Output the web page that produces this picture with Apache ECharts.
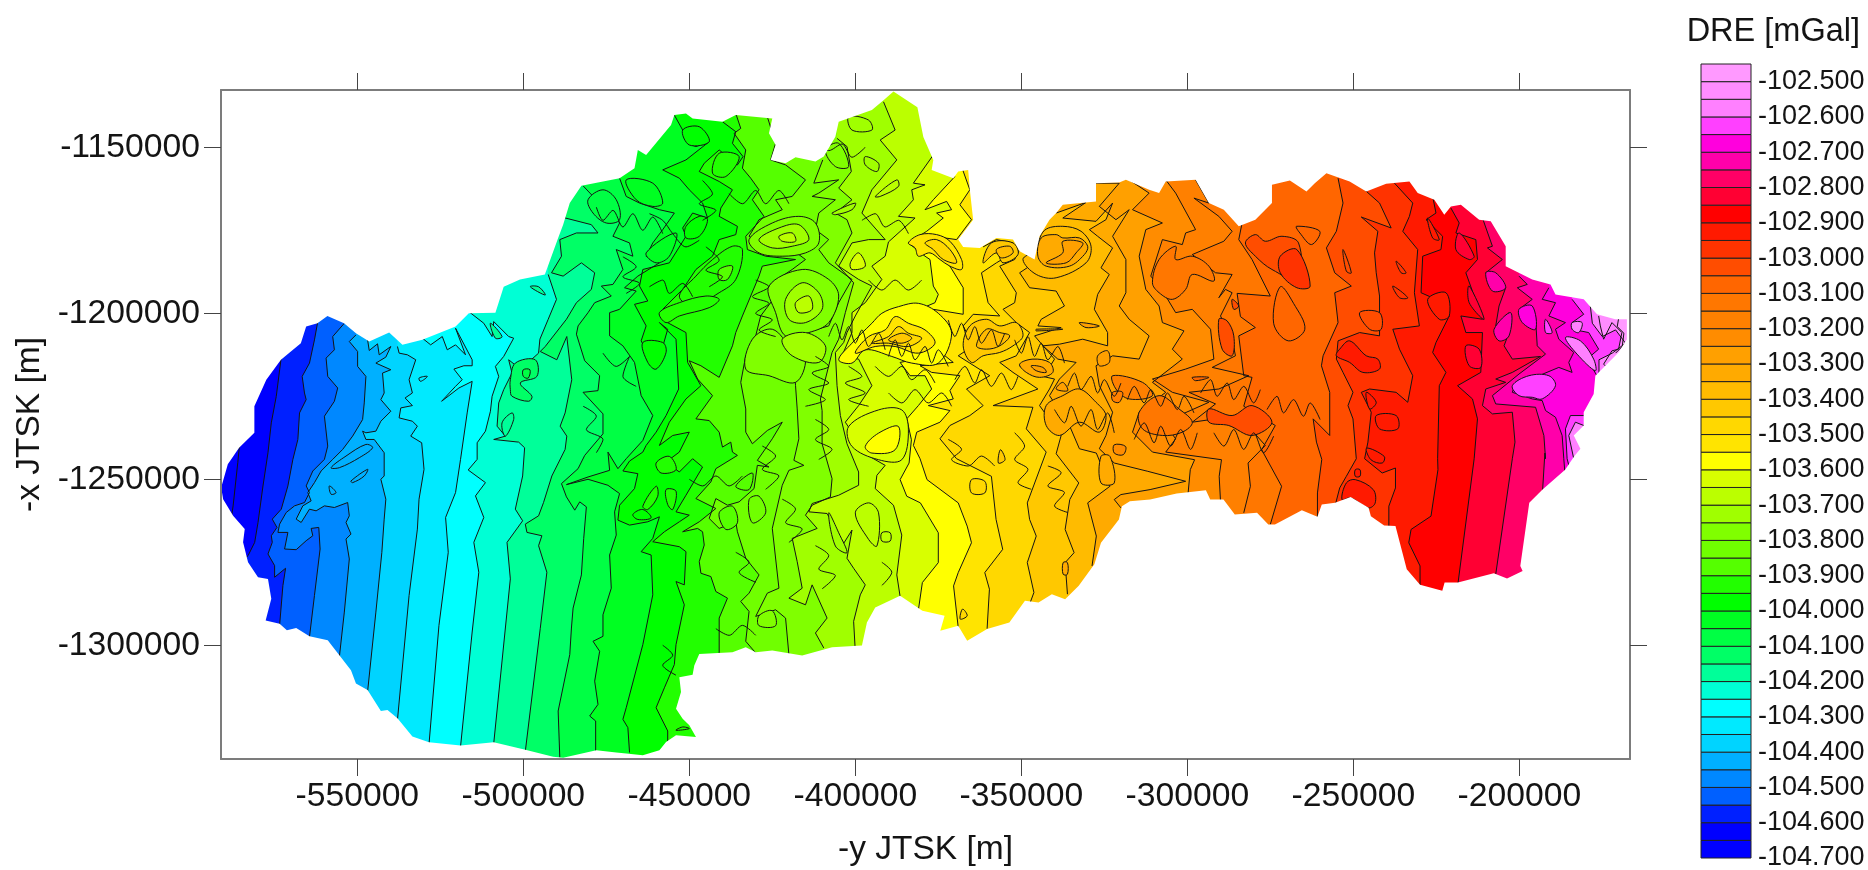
<!DOCTYPE html>
<html><head><meta charset="utf-8">
<style>html,body{margin:0;padding:0;background:#fff}#c{width:1868px;height:870px}</style>
<script src="https://cdn.jsdelivr.net/npm/echarts@6/dist/echarts.min.js"></script>
</head><body><div id="c"></div>
<script>
// all map data in km: pairs -y, -x
const xTicks=[-550000,-500000,-450000,-400000,-350000,-300000,-250000,-200000];
const yTicks=[-1150000,-1200000,-1250000,-1300000];
const legendTicks=[-104.7,-104.6,-104.5,-104.4,-104.3,-104.2,-104.1,-104,-103.9,-103.8,-103.7,-103.6,-103.5,-103.4,-103.3,-103.2,-103.1,-103,-102.9,-102.8,-102.7,-102.6,-102.5];
const bandColors=['#0000ff','#0000ff','#0020ff','#0060ff','#0088ff','#00b0ff','#00d4ff','#00eaff','#00ffff','#00ffd5','#00ff99','#00ff66','#00ff44','#00ff22','#00ff00','#22ff00','#55ff00','#70ff00','#80ff00','#a0ff00','#bbff00','#d8ff00','#ffff00','#ffe400','#ffd800','#ffc800','#ffbb00','#ffaa00','#ffa000','#ff8c00','#ff8000','#ff7700','#ff6600','#ff4d00','#ff3300','#ff1a00','#ff0000','#ff0033','#ff0066','#ff00aa','#ff00dd','#ff40ff','#ff80ff','#ff8cff','#ff99ff'];
const outline=[-591,-1252.5,-589,-1245.5,-585.6,-1240.5,-581,-1236,-581,-1228,-577.4,-1220,-573,-1214,-567,-1209,-565.4,-1204,-562,-1203,-559,-1200.8,-554,-1203,-550.4,-1206,-546.4,-1208.5,-540.4,-1205.8,-536.4,-1209.5,-530.4,-1208,-520.4,-1204,-516.4,-1200,-508.4,-1199.8,-505.9,-1192,-501,-1189.8,-493.5,-1188.3,-489.5,-1177.3,-488,-1173.3,-486,-1166.8,-482.5,-1161.6,-471,-1159.3,-466.5,-1156.3,-465.5,-1150.8,-463,-1152.3,-455.5,-1143.3,-454.5,-1140.3,-451,-1139.8,-449,-1141.3,-440,-1142.3,-436,-1140.3,-425,-1141.3,-426,-1145.8,-424,-1149.3,-425.5,-1153.8,-421,-1154.8,-418,-1153,-412,-1154.3,-409.5,-1152.8,-406,-1146.8,-405,-1142.3,-395,-1138.8,-391.5,-1135.8,-388.5,-1133.2,-381.3,-1137.9,-379.5,-1146.9,-376.5,-1153.8,-377,-1156.8,-370.5,-1159.3,-369,-1157.3,-366,-1156.8,-365.5,-1162.8,-364.5,-1171.8,-369,-1177.8,-367.5,-1180,-362.5,-1180.3,-357.5,-1177.3,-352.5,-1177.8,-350.5,-1181.3,-346,-1183.8,-344.5,-1176.8,-341.5,-1171.8,-339.5,-1169.8,-337.5,-1167.3,-327.5,-1166.3,-327.5,-1160.8,-320.5,-1160.6,-318.5,-1159.8,-311.5,-1162.8,-308.5,-1163.8,-306.5,-1160.3,-297.5,-1159.8,-293.5,-1166.8,-289,-1168.8,-284.5,-1173.8,-279.5,-1171.8,-274.5,-1166.8,-274.5,-1161.3,-269.1,-1160,-264.1,-1163.3,-261.6,-1160.8,-258.1,-1157.8,-251.1,-1160.3,-246.1,-1163.3,-240.1,-1161,-233.1,-1160.3,-230.6,-1163.8,-225.6,-1165.8,-222.6,-1170.3,-220.6,-1167.8,-217.6,-1167.3,-212.1,-1171.8,-208.6,-1172.3,-204.1,-1179.8,-204.1,-1185.8,-196.1,-1189.8,-190.6,-1191.3,-189.1,-1194.3,-180.6,-1195.8,-176.6,-1200.3,-171.1,-1201.8,-167.6,-1201.8,-167.6,-1207.8,-170.1,-1211.8,-177.1,-1218.8,-177.6,-1224.3,-180.6,-1229.8,-180.6,-1233.8,-183.6,-1236.8,-181.6,-1240.8,-183.5,-1243.1,-186.2,-1247.1,-193,-1253.1,-197,-1257.1,-199.7,-1276.1,-199,-1277.6,-203.7,-1279.9,-207.7,-1278.3,-218.5,-1281.1,-222.5,-1281.1,-223.2,-1283.6,-229.9,-1281.8,-233.9,-1277.1,-237.3,-1264.1,-240.7,-1263.9,-244.7,-1261.1,-245.4,-1258.6,-250.8,-1255.3,-255.5,-1257.1,-259.5,-1257.6,-260.8,-1261.3,-265.5,-1259.3,-273.6,-1263.6,-275.6,-1263.6,-279,-1260.1,-285.7,-1260.6,-289.1,-1256.1,-293.1,-1256.1,-294.4,-1253.3,-303.2,-1254.3,-311.2,-1256.1,-317.3,-1256.6,-319.7,-1258.1,-320.6,-1262.1,-326,-1269.1,-328,-1275.6,-332.7,-1282.1,-336.8,-1286.1,-340.8,-1284.6,-344.8,-1287.1,-348.9,-1286.6,-353.6,-1293.1,-360.3,-1295.1,-366.3,-1298.6,-369,-1294.1,-374.4,-1295.6,-373.1,-1291.1,-379.8,-1289.6,-386.5,-1285.1,-394,-1288.6,-396.5,-1293.1,-398,-1300.1,-407,-1300.6,-416,-1303.1,-425,-1301.6,-430,-1302.1,-433,-1300.6,-437,-1302.1,-447,-1302.6,-448.5,-1306.1,-449,-1308.9,-453,-1309.6,-452.5,-1314.1,-454,-1319.1,-452,-1322.1,-450,-1324.1,-448,-1327.6,-454,-1327.1,-457,-1329.1,-459,-1331.6,-464,-1333.1,-469,-1332.6,-472,-1332.3,-478,-1331.6,-488,-1333.9,-491,-1333.6,-499.4,-1331.5,-508.9,-1329.2,-518.9,-1330.2,-528.4,-1329.2,-533.4,-1327.5,-537.9,-1322,-540.9,-1319.5,-542.9,-1319.8,-546.9,-1313.5,-550.4,-1311.5,-551.9,-1307.5,-555.4,-1303,-558.9,-1298.5,-564.4,-1297.3,-568.4,-1294.8,-571.2,-1295.5,-573.4,-1293.5,-577.6,-1292.5,-575.9,-1286,-576.9,-1280,-579.9,-1279.5,-582.9,-1275,-584.4,-1269,-583.9,-1265,-587.4,-1261,-590.4,-1256];
const c00=[-584.5,-1235,-585.4,-1239,-586,-1245,-587.4,-1258,-588,-1262];
const c01=[-572.5,-1210,-573,-1214,-574.4,-1225,-575.9,-1233,-576.9,-1242,-578.4,-1252,-579.9,-1263,-580.9,-1269,-582.9,-1273,-584.5,-1274.5];
const c02=[-561.9,-1202.5,-562.9,-1208,-564.4,-1215,-566.6,-1219,-565.9,-1224,-565.4,-1226,-567.4,-1230,-567.9,-1238,-569.4,-1244,-570.9,-1252,-572.9,-1259,-575.6,-1262,-574.2,-1264.5,-575.9,-1267,-575.6,-1269,-576.9,-1272.5,-574.9,-1276,-574.9,-1279.5,-571.6,-1276.8,-572.4,-1282,-573.4,-1294];
const c03=[-553.9,-1203,-557.4,-1207,-556.9,-1211,-559.4,-1213.5,-558.9,-1219,-555.9,-1222.5,-556.9,-1226.5,-559.9,-1231,-558.9,-1240,-559.9,-1244,-563.4,-1247.5,-565.4,-1252,-564.4,-1254,-565.9,-1257,-568.9,-1258,-571.4,-1260,-573.4,-1263.5,-573.9,-1266,-570.9,-1266,-571.9,-1271,-568.4,-1271.2,-565.4,-1268.5,-563.4,-1267,-563.9,-1264.8,-561.6,-1264.5,-561.2,-1271,-562.9,-1285,-564.4,-1297.5];
const c04=[-550.4,-1206.5,-552.4,-1208.5,-549.9,-1211.5,-549.9,-1216,-547.4,-1219,-547.9,-1227,-548.4,-1232,-551.4,-1237,-554.4,-1241,-557.4,-1244,-560.9,-1247.5,-562.9,-1251,-564.9,-1254,-563.9,-1256.5,-566.4,-1258,-568.4,-1262,-566.9,-1263,-564.4,-1259,-562.4,-1259.5,-559.9,-1258,-556.9,-1258.5,-552.9,-1257,-552.4,-1261,-553.4,-1263,-551.9,-1266.5,-553.4,-1268,-552.4,-1274,-553.9,-1290,-555.4,-1303.5];
const c05=[-546.9,-1208,-546.4,-1211.2,-543.9,-1209.2,-543.4,-1212.5,-539.9,-1210,-541.4,-1213.2,-544.4,-1215,-539.9,-1217,-542.4,-1218,-541.9,-1224,-542.9,-1226,-539.9,-1229.5,-542.9,-1232.5,-544.4,-1235.5,-547.4,-1236,-548.4,-1235.5,-547.4,-1238,-544.9,-1238,-541.9,-1242,-541.9,-1249,-542.9,-1250,-541.4,-1256,-541.9,-1262,-542.6,-1272,-544.4,-1290,-546.9,-1314];
const c06=[-537.9,-1210,-537.4,-1212,-534.9,-1212.5,-532.4,-1214,-534.4,-1220,-533.4,-1224,-535.6,-1225.5,-533.4,-1227.8,-536.9,-1228.5,-537.4,-1231.5,-533.4,-1232.5,-531.9,-1234,-533.9,-1237,-530.6,-1239,-529.9,-1247,-531.4,-1256,-531.9,-1265,-534.4,-1285,-537.9,-1322.5];
const c07=[-530.4,-1207.5,-527.9,-1209.5,-524.4,-1207,-522.9,-1211,-520.4,-1209.5,-517.4,-1212.5,-520.4,-1204.5,-515.4,-1214,-515.4,-1215.8,-517.9,-1215.8,-520.9,-1216.8,-518.4,-1220,-520.4,-1222,-524.6,-1226.5,-519.4,-1222.5,-515.4,-1220.5,-516.9,-1230,-518.9,-1244,-520.4,-1254,-523.4,-1261.5,-522.6,-1272,-525.4,-1294,-528.4,-1329.8];
const c08=[-516.4,-1199.5,-511.9,-1203,-509.4,-1207,-508.9,-1202.5,-504.4,-1207,-502.9,-1207.5,-505.9,-1213,-508.4,-1216,-507.4,-1219,-509.4,-1225,-509.9,-1229.5,-511.4,-1235.5,-513.9,-1239,-513.9,-1244,-516.6,-1247.2,-511.4,-1251,-514.4,-1255,-511.9,-1261.5,-514.9,-1269,-513.4,-1278,-515.4,-1296,-518.9,-1330.5];
const c09=[-492.5,-1188.3,-490,-1195.8,-492.5,-1201.8,-495,-1207.8,-495.4,-1212,-497.4,-1213.8,-500.9,-1216.8,-504.4,-1214,-503.4,-1218,-505.9,-1223,-507.4,-1227,-507.9,-1234,-505.4,-1237,-508.9,-1238,-501.4,-1238.8,-499.6,-1240.5,-500.2,-1249,-502.4,-1259,-500.2,-1262.5,-504.9,-1269,-503.9,-1280,-508.9,-1329.5];
const c10=[-488.5,-1171,-479.5,-1173.3,-477.5,-1175.8,-484,-1175.8,-489,-1177.8,-488.5,-1182.8,-491.5,-1187.8,-488,-1188.8,-482.5,-1184.8,-478.5,-1187.8,-479.5,-1192.8,-484,-1196.8,-487,-1201.8,-487.4,-1202,-493.4,-1210,-494.9,-1211.5,-489.9,-1214,-486.9,-1207,-485.4,-1220,-487.4,-1230,-488.9,-1234,-486.9,-1237,-487.4,-1241,-491.4,-1249,-493.9,-1257,-495.4,-1261,-499.4,-1263.5,-498.9,-1266,-494.4,-1267,-495.4,-1270,-492.9,-1278,-494.9,-1295,-499.4,-1332];
const c11=[-482,-1161.6,-478.5,-1165.3,-475,-1167.8,-471,-1172.8,-473,-1176.8,-468,-1178.8,-467,-1182.8,-472,-1180.8,-470,-1186.8,-473,-1191.3,-476.5,-1191.8,-473.5,-1194.8,-478.5,-1196.8,-480.5,-1199.8,-483.5,-1203.8,-484,-1206.3,-481.5,-1214.3,-477,-1218.8,-477.5,-1223.3,-482,-1223.8,-476,-1230.3,-476,-1236.3,-481.5,-1242.8,-483.5,-1246.8,-488.5,-1251.3,-487,-1255.3,-484.5,-1259.3,-483,-1256.8,-481,-1258.3,-481.8,-1267.8,-482.5,-1278.8,-485,-1288.8,-485.5,-1294.8,-486,-1302.8,-489.5,-1319.8,-489,-1333.8];
const c12=[-471,-1159.3,-469,-1164.8,-465,-1166.8,-459,-1168.8,-454.5,-1169.8,-458,-1174.8,-461,-1178.8,-463,-1182.8,-459,-1184.8,-465.5,-1188.8,-469.5,-1192.3,-466,-1193.3,-471,-1198.8,-474,-1199.8,-474,-1206.8,-470,-1209.8,-466.5,-1214.8,-464.5,-1224.8,-461,-1230.8,-464,-1238.3,-469,-1243.8,-471.5,-1246.8,-474.5,-1241.8,-474,-1247.3,-480.5,-1249.3,-487,-1251.6,-480.5,-1250,-474.5,-1251.8,-471,-1254.3,-472.5,-1259.8,-472,-1266.8,-474,-1272.8,-473.5,-1282.8,-476,-1290.8,-476,-1297.3,-479,-1298.8,-477,-1301.8,-478.5,-1310.8,-477.5,-1317.8,-480,-1321.3,-478.2,-1322.8,-478.2,-1332.3];
const c13=[-454.5,-1140.3,-452,-1144.8,-448,-1143.8,-450.5,-1148.8,-448,-1149.8,-444,-1148.3,-451,-1153.8,-458,-1156.8,-453,-1159.3,-450,-1162.8,-446,-1166.8,-444.5,-1171.3,-449,-1169.8,-452,-1174.3,-451,-1176.8,-456,-1184.8,-464,-1186.8,-465,-1191.8,-462.5,-1196.3,-466.5,-1197.3,-463,-1203.8,-464.5,-1208.3,-460,-1216.8,-458.5,-1211.8,-456.5,-1204.8,-459,-1202.8,-454,-1207.8,-453.2,-1222.8,-457,-1230.8,-460,-1235.8,-463,-1239.8,-464,-1241.8,-468,-1244.5,-470,-1247.5,-465.5,-1248.3,-466.5,-1252.8,-471,-1257.8,-471.5,-1262.3,-468,-1263.8,-462.5,-1262.8,-459,-1261.3,-461,-1267.8,-464.5,-1271.8,-461.5,-1272.8,-461,-1284.8,-464,-1299.8,-469,-1318.8,-470,-1322.3,-468.5,-1324.8,-468,-1332.3];
const c14=[-440,-1142.3,-436,-1145.3,-437,-1148.8,-433.8,-1152.8,-435.5,-1155.3,-441,-1150.8,-445.5,-1154.8,-447,-1157.3,-441,-1160.3,-437,-1162.8,-440.5,-1168.3,-441,-1170.8,-435.5,-1173.8,-436,-1176.3,-441,-1177.8,-443,-1182.8,-448,-1186.8,-452,-1192.8,-458,-1198.8,-457.5,-1202.3,-451,-1205.8,-450.5,-1214.8,-446.5,-1221.8,-451,-1225.8,-456,-1232.8,-459,-1239.8,-455,-1236.8,-450,-1235.8,-453,-1241.8,-457,-1244.8,-453,-1247.8,-449,-1243.8,-446,-1246.3,-451,-1254.8,-454,-1259.8,-450,-1260.8,-453,-1262.8,-457.5,-1265.8,-461,-1268.8,-453,-1270.3,-451,-1271.8,-451.5,-1281.8,-454,-1280.8,-451.5,-1287.8,-454,-1299.8,-454.5,-1305.8,-456,-1309.3,-457.5,-1312.8,-460,-1318.8,-456.5,-1325.8,-456.5,-1329.8];
const c15=[-436,-1139.8,-434.5,-1144.3,-436.5,-1145.8,-433,-1150.8,-434,-1156.3,-431.5,-1159.3,-429,-1162.8,-431,-1165.8,-427.5,-1170.8,-433,-1176.8,-432.5,-1180.8,-427,-1182.8,-418,-1183.8,-428,-1185.8,-429,-1188.8,-434,-1200.8,-436,-1205.8,-437,-1209.8,-441,-1219.3,-446.5,-1215.8,-450,-1214.3,-447.5,-1219.8,-443,-1224.8,-448,-1231.8,-444,-1232.3,-441,-1235.8,-440,-1240.3,-437.5,-1238.8,-437,-1241.8,-435.5,-1242.8,-442,-1246.8,-443.5,-1250.8,-448,-1255.8,-442,-1258.8,-447,-1262.8,-452,-1265.8,-447.5,-1264.8,-446,-1265.8,-445.5,-1269.8,-447,-1274.8,-446.5,-1278.3,-443.5,-1279.3,-442,-1283.8,-438.5,-1285.8,-441,-1291.8,-441,-1302.3];
const c16=[-426.5,-1140.8,-424,-1148.8,-425.5,-1153.8,-421,-1155.3,-415,-1159.8,-419,-1164.8,-424,-1165.8,-422,-1168.8,-429,-1171.8,-432,-1176.8,-429,-1178.8,-419,-1180.8,-415,-1183.8,-419,-1186.8,-425,-1190.8,-424,-1194.8,-428.5,-1200.8,-430,-1206.8,-433,-1212.8,-434.5,-1220.8,-433,-1228.8,-433,-1235.8,-431,-1239.3,-426.5,-1235.3,-422,-1232.8,-425,-1237.8,-429.5,-1244.3,-426,-1246.3,-429.5,-1245.8,-430.5,-1252.8,-435,-1256.8,-438.5,-1257.8,-442,-1255.8,-444,-1261.8,-441,-1264.8,-436,-1262.8,-435.5,-1265.8,-433,-1273.8,-429,-1278.8,-432,-1284.3,-434.5,-1286.8,-432,-1289.8,-433,-1298.8,-430,-1302.3];
const c17=[-409.8,-1153.8,-412.5,-1160.8,-405,-1159.8,-411,-1163.8,-413,-1164.8,-406,-1165.8,-411,-1169.8,-412,-1174.8,-408,-1177.8,-411,-1180.8,-408,-1184.8,-401,-1189.8,-405,-1196.8,-408,-1203.8,-415,-1205.8,-418.5,-1213.8,-418,-1221.8,-417.5,-1228.8,-417,-1237.8,-418.5,-1244.3,-415.5,-1245.8,-420,-1247.3,-422,-1251.8,-425,-1264.8,-423,-1282.8,-426.5,-1284.3,-430,-1291.3,-424,-1289.3,-421,-1291.8,-420,-1302.8];
const c18=[-405.5,-1147.3,-402.5,-1149.8,-401.2,-1157.3,-405,-1162.3,-401,-1165.8,-406,-1169.8,-402.5,-1171.8,-401,-1175.8,-406,-1184.8,-400.5,-1190.8,-403,-1199.8,-405,-1207.8,-407,-1211.8,-410.5,-1225.8,-410,-1229.3,-410,-1239.3,-407,-1249.8,-407.5,-1255.3,-413,-1257.8,-415,-1260.8,-411.5,-1264.8,-419,-1267.8,-417.5,-1274.8,-416,-1282.8,-420,-1285.8,-415,-1287.8,-413,-1281.8,-408.5,-1291.8,-412,-1296.3,-409.5,-1300.8];
const c19=[-391.5,-1136.3,-388,-1144.8,-392.5,-1147.8,-387.5,-1153.8,-395,-1162.8,-398,-1169.8,-391,-1177.8,-396,-1177.8,-401,-1178.8,-405,-1185.8,-399,-1189.8,-395,-1191.8,-400,-1200.8,-402.5,-1205.8,-403.5,-1208.8,-406,-1211.8,-405.5,-1221.8,-404.5,-1230.8,-402.5,-1239.3,-399,-1247.8,-399,-1251.8,-405,-1254.8,-413,-1257.3,-414,-1259.8,-408.5,-1260.3,-403.5,-1269.3,-401,-1265.3,-402.5,-1273.8,-400.5,-1276.8,-397,-1281.8,-398.5,-1284.8,-400.5,-1292.8,-400,-1301.8];
const c20=[-376.5,-1152.3,-382.5,-1160.8,-379,-1161.3,-383,-1162.8,-382.5,-1165.8,-387,-1170.8,-382,-1171.3,-390,-1178.5,-391,-1182.8,-395,-1185.8,-392,-1189.8,-397,-1196.8,-401,-1199.8,-401,-1205.8,-404,-1212.8,-399,-1213.8,-395,-1221.8,-399,-1227.8,-403,-1232.8,-399,-1238.8,-398,-1241.8,-391,-1245.8,-393.5,-1248.8,-394,-1252.8,-388.5,-1257.8,-386,-1266.8,-387.5,-1278.8,-386.5,-1285.3];
const c21=[-370,-1158.8,-376.5,-1165.8,-379,-1168.8,-372.5,-1166.3,-371,-1168.8,-375.5,-1169.8,-373.5,-1171.3,-378.5,-1175.3,-384,-1178.8,-379,-1182.8,-377.5,-1183.8,-376.5,-1191.8,-375,-1194.3,-376,-1196.8,-379.5,-1198.3,-388,-1200,-384,-1207,-381.5,-1213.8,-386.5,-1214.8,-383.5,-1218.8,-379,-1218.8,-377,-1222.8,-381,-1227.8,-384.5,-1231.8,-383.1,-1238.1,-383.8,-1245.1,-386.5,-1250.1,-384.5,-1255.1,-380.4,-1257.1,-375,-1266.1,-375,-1275.1,-379.8,-1281.1,-381.1,-1290.1];
const c22=[-368,-1155.8,-365.5,-1162.8,-368.5,-1167.3,-365,-1171.8,-369.5,-1177.8,-376.5,-1176.8,-380.5,-1178.8,-375.5,-1181.8,-371.5,-1185.8,-367.5,-1192.3,-367.5,-1200.3,-376.5,-1198.8,-373,-1204.8,-380.5,-1207.8,-375.5,-1210.8,-370.5,-1214.8,-380.5,-1215.8,-377,-1217.8,-368.5,-1218.8,-371.5,-1223.3,-370.5,-1225.8,-378,-1227.8,-371.5,-1229.3,-374.5,-1232.8,-381.5,-1235.8,-382.5,-1239.8,-380.5,-1243.8,-378.4,-1250.1,-369,-1257.1,-366.3,-1264.1,-365,-1269.1,-369,-1278.1,-370.4,-1282.1,-369,-1294.6];
const c23=[-361.5,-1180,-357.5,-1177.8,-352.5,-1178.8,-352.5,-1181.8,-357.5,-1184.8,-362,-1187.8,-360,-1196.8,-356.5,-1200.8,-364.5,-1200.3,-367.5,-1203.8,-364.5,-1209.8,-369,-1212.8,-359.5,-1218.8,-366.5,-1222.8,-361.5,-1227.8,-365.5,-1230.8,-371.5,-1233.8,-374.5,-1237.8,-369.5,-1243.8,-359,-1249.1,-357.6,-1262.1,-355.6,-1271.1,-361,-1278.1,-359.6,-1283.1,-360.3,-1295];
const c24=[-350.5,-1180.8,-352,-1183.8,-356.5,-1185.8,-351.5,-1193.8,-352,-1196.8,-355.5,-1198.8,-351.5,-1202.8,-347.5,-1205.8,-351.5,-1212.8,-356.5,-1214.8,-352.5,-1217.8,-345,-1222.8,-358.5,-1227.8,-346.5,-1228.3,-348.5,-1234.8,-342.5,-1241.8,-342.1,-1242.1,-348.2,-1257.1,-347.5,-1262.1,-345.5,-1267.1,-348.2,-1275.1,-346.2,-1284.1,-347.5,-1287.6];
const c25=[-346,-1184.8,-350.5,-1187.8,-347.5,-1192.3,-339.5,-1193.3,-337,-1197.8,-344,-1201.8,-345,-1203.8,-338,-1204.3,-346,-1206.8,-340,-1213.8,-342.5,-1217.8,-350.5,-1215.8,-344.5,-1218.8,-340,-1219.8,-341.5,-1222.8,-344.5,-1227.8,-338,-1236.8,-339.5,-1242.3,-332.7,-1251.1,-335.4,-1256.1,-336.8,-1265.1,-334.1,-1272.1,-336.8,-1275.1,-336.1,-1284.6];
const c26=[-339.5,-1169.8,-330.5,-1166.6,-337.5,-1171.3,-327.5,-1172.3,-322.5,-1166.8,-324.5,-1171.8,-329.5,-1174.8,-327,-1176.8,-322.5,-1180.3,-326,-1186.3,-323.5,-1188.3,-327,-1194.3,-328,-1198.8,-324,-1205.8,-324,-1209.8,-331.5,-1207.8,-338.5,-1209.3,-343.5,-1209.8,-339,-1213.8,-333.5,-1214.8,-338.5,-1219.8,-341.5,-1224.8,-335.5,-1233.8,-332.5,-1240.8,-327.4,-1242.1,-323.3,-1252.1,-330,-1257.1,-327.4,-1267.1,-328.7,-1276.1];
const c27=[-327.5,-1160.8,-320.5,-1160.8,-326.5,-1167.8,-321.5,-1171.8,-317.5,-1168.8,-322.5,-1176.8,-318.5,-1183.8,-318.5,-1193.8,-320.5,-1197.8,-317.5,-1201.8,-311.5,-1206.8,-314.5,-1213.8,-322.5,-1212.8,-327.5,-1215.8,-326.5,-1221.8,-322.5,-1229.8,-324.5,-1236.8,-326.5,-1240.8,-322,-1245.1,-311.9,-1247.6,-300.5,-1250.6,-311.2,-1253.1,-320,-1254.6,-322,-1256.1,-320,-1258.6];
const c28=[-317.5,-1159.8,-311.5,-1163.8,-316.5,-1168.8,-307.5,-1172.8,-312.5,-1174.8,-314.5,-1182.8,-312.5,-1192.8,-308.5,-1197.8,-307.5,-1202.8,-301,-1205.3,-304.5,-1210.8,-301.5,-1213.8,-310.5,-1220.8,-306.5,-1223.8,-314.5,-1229.8,-316.5,-1235.8,-310.5,-1241.8,-297.8,-1244.1,-299.1,-1247.1,-299.8,-1254.6];
const c29=[-306.5,-1159.8,-303.5,-1163.8,-297.5,-1174.8,-300.5,-1175.8,-301.5,-1179.3,-307.5,-1177.8,-311,-1188.8,-308.5,-1191.8,-306.5,-1194.8,-303.5,-1199.8,-298.5,-1198.8,-293,-1204.8,-292,-1213.8,-300.5,-1216.8,-310.5,-1219.8,-304.5,-1223.8,-293.5,-1226.8,-302.5,-1230.8,-306.5,-1233.8,-303.5,-1237.8,-306.5,-1241.8,-289.7,-1244.1,-290.4,-1249.1,-290,-1256.6];
const c30=[-297.5,-1159.8,-293.5,-1166.8,-298,-1165.3,-290.5,-1170.8,-286.5,-1175.3,-289,-1178.3,-298.5,-1182.3,-291.5,-1187.8,-286.5,-1188.3,-290.5,-1195.3,-288.5,-1192.8,-286.5,-1193.8,-290,-1200.8,-286.5,-1207.8,-285.5,-1212.8,-292.5,-1216.3,-281.5,-1218.8,-290.5,-1222.8,-299.5,-1223.8,-291.5,-1227.3,-298.5,-1232.8,-284.5,-1230.8,-276.5,-1239.8,-281.7,-1245.1,-281,-1252.1,-283,-1260.1];
const c31=[-283.5,-1172.8,-284.5,-1177.8,-280.5,-1183.8,-275,-1194.8,-285,-1194,-284,-1201,-279.5,-1204.3,-284.5,-1206.8,-283,-1218.8,-280.5,-1219.3,-283,-1228,-273.5,-1233.8,-277.6,-1241.1,-271.6,-1252.1,-275,-1263.6];
const c32=[-254.6,-1159.3,-253.1,-1166.8,-255.1,-1175.3,-258.1,-1180.3,-255.6,-1187.8,-250.6,-1191.8,-255.6,-1193.8,-254.6,-1202.8,-259.1,-1212.8,-259.6,-1215.8,-257.1,-1223.8,-257.1,-1236.8,-262.1,-1231.8,-261.1,-1238.8,-259.5,-1244,-260.8,-1254.1,-260.8,-1261.6];
const c33=[-246.6,-1162.8,-242.1,-1166.8,-238.6,-1174.3,-247.6,-1171,-242.6,-1175.3,-243.6,-1181.8,-243.1,-1187.8,-242.1,-1194.8,-242.1,-1206.8,-248.1,-1205.8,-254.6,-1208.3,-255.1,-1213.8,-253.1,-1217.8,-250.1,-1223.8,-251.6,-1227.8,-250.1,-1231.8,-249.1,-1243.8,-252.1,-1249.1,-254.1,-1252.6,-255.5,-1258];
const c34=[-237.6,-1160.8,-232.1,-1166.8,-233.1,-1170.8,-235.1,-1175.3,-230.6,-1180.8,-231.6,-1193.8,-230.1,-1203.8,-238.1,-1204.8,-236.1,-1210.8,-232.1,-1218.8,-233.6,-1226.8,-237.1,-1223.8,-245.1,-1222.8,-247.6,-1223.8,-244.6,-1229.8,-245.6,-1238.8,-246.6,-1243.8,-241.3,-1248.1,-237.3,-1246.6,-237.3,-1252.6,-239.3,-1258.1,-239.3,-1264.6];
const c35=[-226.1,-1164.8,-225.1,-1169.8,-228.1,-1171.8,-223.1,-1176.8,-223.6,-1180.8,-229.1,-1182.8,-229.6,-1193.8,-225.1,-1195.8,-221.1,-1200.8,-225.1,-1208.8,-226.1,-1211.8,-222.1,-1217.8,-224.1,-1221.8,-224.6,-1243.8,-224.5,-1247.1,-226.6,-1261.1,-232.6,-1265.1,-233.3,-1269.1,-229.9,-1276.1,-229.9,-1282.1];
const c36=[-220.6,-1168.3,-218.1,-1172.8,-219.1,-1175.8,-213.1,-1177.8,-212.6,-1183.8,-216.1,-1187.8,-211.1,-1201.8,-217.6,-1200.8,-216.1,-1205.8,-211.1,-1205.8,-211.6,-1217.8,-218.6,-1221.8,-214.1,-1225.8,-212.6,-1231.8,-213.6,-1243.8,-218.5,-1281.6];
const c37=[-211.1,-1171.3,-208.1,-1179.8,-209.6,-1180.3,-205.1,-1183.8,-210.1,-1187.8,-204.1,-1192.3,-206.1,-1197.8,-207.1,-1203.8,-203.1,-1199.8,-203.1,-1205.8,-204.6,-1209.8,-202.1,-1213.8,-193.6,-1213,-202.1,-1217.8,-207.1,-1219.8,-204.1,-1220.8,-210.1,-1222.8,-211.1,-1227.8,-208.1,-1230.3,-202.1,-1229.8,-201.3,-1238.8,-202.1,-1243.8,-207.1,-1278.6];
const c38=[-200.1,-1188.8,-197.6,-1191.3,-200.6,-1192.3,-196.1,-1195.8,-200.1,-1198.8,-195.1,-1201.8,-194.6,-1209.8,-192.1,-1212.3,-200.1,-1218.3,-208.1,-1224.8,-207.1,-1227.3,-195.1,-1228.3,-192.6,-1236.8,-192.1,-1243.8,-192.3,-1242.1,-193,-1253.6];
const c39=[-191.1,-1192.3,-193.1,-1195.8,-189.1,-1196.8,-191.1,-1200.8,-186.1,-1202.8,-189.1,-1204.8,-188.1,-1207.8,-183.6,-1211.8,-185.1,-1214.8,-184.1,-1217.8,-188.1,-1216.3,-194.1,-1218.8,-201.1,-1220.8,-202.1,-1223.8,-196.1,-1225.8,-193.1,-1226.3,-192.1,-1229.3,-189.1,-1231.3,-187.1,-1236.8,-186.6,-1243.8,-186.2,-1249];
const c40=[-184.1,-1195.8,-180.6,-1200.3,-184.1,-1202.8,-184.1,-1204.8,-179.1,-1205.8,-176.1,-1210.8,-179.6,-1213.8,-176.6,-1218.8,-170,-1225,-172,-1235,-180.6,-1230.8,-184.6,-1230.8,-186.1,-1234.8,-185.6,-1243.8,-184.5,-1248];
const c41=[-178.6,-1197.8,-178,-1203,-175,-1207,-171,-1205,-168,-1209,-172,-1212,-176,-1214,-176,-1220,-170,-1228,-175,-1236,-183.1,-1232.8,-185.1,-1236.8,-183.6,-1243.8];
const c42=[-176.1,-1200.8,-175.6,-1203.8,-174.6,-1207.8,-172.1,-1202.8,-169.1,-1205.8,-170.1,-1210.8,-172.1,-1211.3,-174.6,-1215.3,-172,-1218];
const c43=[-170,-1201,-170.5,-1204,-168.5,-1206,-169,-1210,-171,-1212];
const contours=[c00,c01,c02,c03,c04,c05,c06,c07,c08,c09,c10,c11,c12,c13,c14,c15,c16,c17,c18,c19,c20,c21,c22,c23,c24,c25,c26,c27,c28,c29,c30,c31,c32,c33,c34,c35,c36,c37,c38,c39,c40,c41,c42,c43];
// closed contour loops: first number is the contour index, then pairs
const westLoops=[[4,-557.9,-1246.5,-553.4,-1243,-547.4,-1239.5,-545.4,-1240.5,-549.4,-1243.5,-555.4,-1246.5],[4,-551.9,-1250.5,-546.9,-1247,-547.9,-1249,-551.4,-1251],[4,-558.4,-1252,-556.4,-1254,-557.9,-1254.5],[10,-503.9,-1220,-502.4,-1215,-496.4,-1214,-495.9,-1219,-500.9,-1221,-497.4,-1225,-498.4,-1226.5,-503.4,-1225,-503.9,-1223],[11,-500,-1217,-498,-1217,-498.5,-1219.5,-500,-1219],[9,-503.4,-1230,-502.9,-1232,-505.4,-1237,-506.4,-1233],[9,-497.9,-1192,-493.4,-1194.5,-495.4,-1192],[9,-509.9,-1203,-506.4,-1207,-508.4,-1207.5],[6,-531.4,-1219.5,-528.9,-1219,-530.9,-1220.5]];
const northLoops=[[11,-480.5,-1165.8,-476,-1162.8,-472,-1165.8,-471,-1171.8,-475,-1172.8,-479,-1169.8],[12,-469,-1159.8,-461,-1160.8,-458,-1166.8,-461,-1167.8,-466,-1165.8],[13,-452,-1144.8,-447,-1143.8,-444,-1148.3,-450,-1149.3],[14,-441,-1151.8,-435,-1152.8,-439,-1158.8,-443,-1157.8],[13,-451,-1173.8,-447,-1170.8,-444.5,-1171.8,-447,-1176.8,-451,-1177.3],[12,-463,-1181.8,-454,-1175.8,-456,-1182.8,-460,-1184.8],[14,-443,-1183.8,-437,-1179.8,-434,-1180.8,-436,-1189.8,-441,-1193.8,-449,-1197.8,-453,-1194.8,-448,-1188.8],[15,-441,-1186.8,-437,-1185.8,-438.5,-1189.8,-441,-1189.8],[14,-459,-1199.8,-453,-1196.8,-445,-1194.8,-441,-1195.8,-444,-1198.3,-453,-1200.8,-457,-1202.8],[13,-464,-1208.8,-458,-1208.8,-457,-1211.8,-460,-1216.8,-462.5,-1214.8],[18,-402,-1140.8,-396,-1141.8,-395,-1144.8,-401,-1144.8],[18,-397,-1152.8,-393,-1154.8,-393.5,-1157.3,-397,-1155.3],[19,-394,-1164.8,-387.5,-1159.8,-387,-1161.8,-392.5,-1164.8],[18,-407,-1169.8,-400,-1166.8,-401,-1168.8,-406,-1170.3],[17,-409,-1150.8,-405,-1148.8,-402,-1155.8,-406,-1155.8],[17,-432,-1177.8,-425,-1172.8,-417,-1170.8,-412,-1172.8,-411,-1178.8,-415,-1181.8,-422,-1182.8,-429,-1181.8],[18,-429,-1177.8,-423,-1174.3,-417,-1173.3,-414,-1177.8,-419,-1179.8,-425,-1180.3],[19,-423,-1176.8,-419,-1175.8,-418,-1178.3,-422,-1178.3],[17,-426,-1191.8,-416,-1186.8,-408,-1189.8,-405,-1194.8,-408,-1202.8,-414,-1205.8,-421,-1206.8,-424,-1199.8],[18,-421,-1195.8,-416,-1190.8,-411,-1193.8,-410,-1198.8,-415,-1202.8,-420,-1201.8],[19,-418,-1196.8,-414,-1194.8,-413,-1198.8,-417,-1199.8],[17,-431,-1207.8,-425,-1204.8,-419,-1210.8,-415,-1213.8,-418,-1220.8,-426,-1218.8,-433,-1216.8],[18,-422,-1207.8,-415,-1205.8,-409,-1209.8,-411,-1214.8,-419,-1212.8],[20,-401.5,-1184.8,-399,-1181.8,-397,-1185.8,-401,-1186.8]];
const hillLoops=[[21,-405,-1214,-401,-1209,-395,-1203,-392,-1200,-387,-1198,-381,-1197,-375,-1200,-371,-1206,-375,-1215,-383,-1215,-389,-1213,-397,-1211,-401,-1215],[22,-400,-1212,-396,-1207,-391,-1205,-388,-1201,-384,-1203,-379,-1205,-376,-1209,-381,-1212,-388,-1210,-394,-1210],[23,-395,-1209,-390,-1207,-387,-1204,-384,-1206,-380,-1207.5,-384,-1210,-390,-1209],[24,-390,-1208,-386,-1206,-383,-1207.5,-386,-1209],[25,-349.5,-1183.8,-345.5,-1188.3,-339.5,-1189.3,-330.5,-1184.8,-329,-1179.8,-332,-1175.3,-337.5,-1173.8,-343,-1175,-346,-1181],[26,-345,-1182.8,-344,-1177.3,-339.5,-1176.3,-337.5,-1177.3,-332.5,-1177.3,-330,-1179.8,-331,-1182.3,-335.5,-1185.8,-342.5,-1185.8],[27,-342.5,-1184.8,-337.5,-1181.8,-337.5,-1178.3,-331.5,-1178.8,-333.5,-1181.8,-336.5,-1184.8]];
const southLoops=[[13,-467,-1260.6,-464,-1259.1,-461.5,-1261.6,-465.5,-1262.1],[14,-457,-1253.1,-454,-1253.6,-455,-1259.1,-456.5,-1257.6],[14,-464,-1258.1,-460,-1252.1,-459.5,-1255.1,-462.5,-1259.1],[14,-460,-1245.1,-456,-1243.1,-454,-1247.1,-458.5,-1248.1],[16,-432,-1256.1,-429,-1255.1,-427,-1260.1,-431,-1263.1],[15,-441,-1260.1,-437,-1258.1,-435.5,-1263.1,-439,-1265.1],[18,-408,-1260.1,-405,-1266.1,-402.5,-1272.1,-406,-1270.1],[19,-400,-1260.1,-396,-1257.1,-393,-1260.1,-393.5,-1270.1,-396,-1268.1],[19,-392,-1266.1,-389.5,-1266.1,-389.5,-1268.6,-392,-1268.6],[20,-402,-1234.1,-393,-1229.1,-386,-1229.1,-384,-1235.1,-386,-1244.1,-393,-1244.1,-401,-1240.1],[21,-397,-1240.1,-393,-1236.1,-387,-1234.1,-388,-1241.1,-395,-1242.1],[17,-429,-1291.1,-425,-1289.6,-424,-1294.1,-429,-1294.1],[15,-436,-1252.1,-431,-1248.1,-432,-1253.1],[14,-452,-1324.6,-450,-1325.1,-454,-1325.6],[26,-326,-1243.1,-323.3,-1243.1,-322,-1251.1,-326,-1251.1],[23,-365,-1250.1,-361,-1250.6,-361,-1254.1,-365,-1254.1],[24,-356.3,-1241.1,-354.9,-1244.1,-356.9,-1245.1],[28,-322,-1239.6,-318.6,-1240.1,-319.3,-1242.6,-322,-1242.1],[34,-246,-1240.6,-240.7,-1243.1,-241.3,-1245.1,-244.7,-1244.1],[34,-252.1,-1251.1,-249.4,-1250.1,-244,-1253.1,-243.4,-1257.1,-245.4,-1258.6,-250.8,-1255.6,-253.4,-1256.1],[34,-249.4,-1247.1,-248,-1247.1,-248,-1249.1,-249.4,-1249.1],[26,-337.4,-1275.1,-336.1,-1275.1,-336.1,-1278.6,-337.4,-1278.6],[23,-367.7,-1289.1,-366.3,-1291.1,-368.4,-1292.1]];
const centreLoops=[[22,-384,-1178.8,-380.5,-1176.3,-375.5,-1176.3,-371.5,-1178.3,-368,-1183.8,-368,-1186.8,-371.5,-1185.8,-374.5,-1183.8,-377.5,-1181.8,-381,-1182.8,-382,-1180.3],[23,-379,-1178.8,-375.5,-1177.8,-371.5,-1180.8,-369.5,-1184.8,-373.5,-1183.8,-376.5,-1180.8],[24,-361.5,-1184.8,-359,-1178.8,-352.5,-1178.8,-351,-1182.3,-355.5,-1184.8,-357.5,-1181.8],[25,-357.5,-1180.8,-353.5,-1179.8,-352.5,-1181.8,-356,-1183.3],[24,-367.5,-1209.8,-365.5,-1203.8,-360.5,-1201.8,-356.5,-1203.8,-351.5,-1202.8,-349.5,-1206.8,-352.5,-1209.8,-356.5,-1211.8,-361.5,-1212.8,-365,-1214.8],[25,-363.5,-1209.8,-360.5,-1204.8,-356.5,-1205.8,-353.5,-1206.8,-356.5,-1209.8,-360.5,-1210.8],[26,-350.5,-1215.3,-346.5,-1213.8,-341.5,-1214.8,-340.5,-1217.8,-344.5,-1219.3,-348.5,-1217.8],[27,-347,-1215.8,-343.5,-1216.3,-342.5,-1217.8,-345.5,-1217.3],[26,-342.5,-1227.8,-337.5,-1224.8,-332.5,-1222.8,-327.5,-1226.8,-324.5,-1230.8,-326.5,-1235.8,-332.5,-1232.8,-338.5,-1236.8,-342.5,-1233.8],[27,-339.5,-1222.8,-337.5,-1220.8,-336,-1223.3],[30,-314.5,-1229.8,-308.5,-1224.8,-302.5,-1228.8,-298.5,-1232.8,-301.5,-1235.8,-307.5,-1236.8,-313.5,-1234.8],[32,-293.5,-1228.8,-286.5,-1230.8,-280.5,-1227.8,-274.5,-1232.8,-280.5,-1236.8,-287.5,-1233.8,-293.5,-1232.8],[29,-322.5,-1218.8,-313.5,-1220.8,-310.5,-1224.8,-317.5,-1225.8,-321.5,-1222.8],[29,-322.5,-1223.8,-319.5,-1223.8,-320.5,-1226.8,-322.5,-1226.3],[30,-310.5,-1190.8,-308.5,-1183.8,-303.5,-1179.8,-303.5,-1183.8,-298.5,-1182.8,-293.5,-1185.8,-292,-1190.3,-298.5,-1188.3,-300.5,-1192.8,-304.5,-1195.8,-308.5,-1193.8],[32,-282.5,-1178.8,-279.5,-1176.3,-276.5,-1178.3,-271.5,-1176.8,-266.5,-1178.8,-266.5,-1189.8,-274.5,-1186.8,-279.5,-1182.8],[33,-272,-1182.8,-267,-1180.8,-263,-1191.8,-267,-1192.3,-272,-1187.8],[31,-272,-1192,-268,-1197,-264.6,-1204.8,-269.6,-1208.3,-274,-1203],[27,-332.5,-1202.8,-326.5,-1203.8,-330.5,-1204.3],[26,-345.5,-1204.8,-337.5,-1204.8,-345.5,-1205.3],[27,-327,-1212.8,-324,-1211.3,-323.5,-1214.8,-326.5,-1215.8],[32,-290.5,-1201.8,-288,-1202.3,-286,-1206.8,-286.5,-1212.8,-289.5,-1210.8],[32,-286.5,-1195.8,-284.5,-1197.8,-286,-1198.8],[31,-298.5,-1219.3,-293.5,-1219.3,-297.5,-1220.3]];
const eastLoops=[[31,-267.1,-1173.8,-260.1,-1175.3,-262.6,-1179.3,-266.1,-1175.8],[32,-253.1,-1180.8,-250.6,-1187.8,-252.1,-1187.3],[33,-237.1,-1184.3,-234.1,-1187.8,-235.6,-1187.8],[33,-238.1,-1191.8,-233.6,-1195.3,-236.1,-1195.3],[32,-248.1,-1199.8,-242.1,-1199.8,-241.6,-1204.8,-245.1,-1204.8],[34,-227.6,-1171.3,-224.1,-1177.8,-226.1,-1177.3],[36,-218.1,-1175.8,-213.6,-1182.8,-215.1,-1183.8,-219.1,-1180.8],[36,-215.1,-1191.8,-210.6,-1201.8,-215.1,-1196.8],[34,-227.6,-1195.8,-222.1,-1193.8,-221.1,-1200.8,-224.1,-1201.8],[36,-216.1,-1209.8,-212.1,-1210.8,-211.6,-1216.3,-215.1,-1215.8],[34,-254.1,-1210.8,-251.1,-1208.3,-246.1,-1212.8,-242.6,-1213.8,-242.1,-1216.8,-247.1,-1217.8,-251.1,-1214.8,-255.1,-1212.8],[34,-243.1,-1230.8,-237.1,-1230.8,-236.6,-1234.8,-242.1,-1234.8],[34,-246.1,-1223.8,-243.1,-1226.8,-245.1,-1228.8],[38,-207.6,-1204.8,-202.6,-1199.8,-203.1,-1206.8,-206.1,-1208.3],[38,-210.1,-1187.8,-207.1,-1187.8,-204.1,-1192.3,-208.1,-1193.3],[39,-200.1,-1198.8,-196.1,-1197.8,-195.1,-1204.8,-199.1,-1202.8],[40,-192.1,-1201.8,-190.1,-1205.8,-192.1,-1205.8],[41,-184.1,-1202.8,-181.1,-1202.8,-182.1,-1205.8,-184.1,-1204.8],[41,-186.1,-1207.3,-181.6,-1208.3,-177.6,-1213.8,-177.1,-1217.3,-182.6,-1212.3],[40,-202.1,-1221.8,-197.1,-1218.8,-191.1,-1218.8,-189.1,-1221.8,-193.1,-1225.8,-196.1,-1225.3,-200.1,-1224.8]];
const loops=[].concat(westLoops,northLoops,hillLoops,southLoops,centreLoops,eastLoops);
// open contour pieces in the dense ridge belts
const ridgeBelt=[[-408,-1207,-406,-1203,-404,-1208,-402,-1204,-400,-1209,-398,-1205,-396,-1210,-393,-1206,-391,-1211],[-390,-1213,-388,-1208,-386,-1213,-384,-1209,-382,-1214,-379,-1210,-377,-1215,-375,-1211,-372,-1216],[-372,-1202,-370,-1207,-368,-1203,-366,-1208,-364,-1204,-362,-1209,-359,-1205,-357,-1210,-355,-1206],[-352,-1208,-350,-1212,-348,-1207,-346,-1213,-344,-1209,-342,-1214,-339,-1210,-337,-1215],[-370,-1220,-367,-1216,-364,-1221,-362,-1217,-359,-1222,-356,-1218,-353,-1223,-351,-1219],[-336,-1222,-334,-1218,-332,-1223,-329,-1219,-327,-1224,-325,-1220,-322,-1225,-320,-1221],[-318,-1226,-316,-1222,-313,-1227,-311,-1223,-308,-1228,-306,-1224,-303,-1229,-301,-1225,-298,-1230],[-296,-1224,-293,-1220,-291,-1225,-288,-1221,-286,-1226,-283,-1222,-280,-1227,-278,-1223],[-276,-1229,-273,-1225,-271,-1230,-268,-1226,-265,-1231,-263,-1227,-260,-1232],[-340,-1229,-337,-1233,-335,-1228,-332,-1234,-329,-1229,-327,-1235,-324,-1230,-322,-1236],[-316,-1238,-313,-1233,-310,-1239,-308,-1234,-305,-1240,-302,-1235,-299,-1241,-297,-1236],[-292,-1236,-289,-1240,-286,-1235,-283,-1241,-280,-1236,-277,-1242,-274,-1237],[-430,-1190,-426,-1192,-431,-1195,-426,-1197,-430,-1200,-425,-1202,-429,-1205,-424,-1207],[-412,-1213,-408,-1216,-413,-1218,-408,-1221,-414,-1223,-409,-1226,-415,-1228],[-402,-1216,-398,-1219,-403,-1221,-397,-1224,-402,-1226,-396,-1228],[-394,-1216,-390,-1219,-386,-1216,-383,-1220,-379,-1217,-376,-1221],[-390,-1224,-386,-1227,-382,-1223,-378,-1227,-374,-1224,-371,-1228],[-412,-1232,-408,-1235,-412,-1238,-407,-1241,-411,-1244],[-372,-1238,-368,-1241,-371,-1244,-366,-1246,-362,-1243,-358,-1246],[-352,-1236,-349,-1240,-352,-1244,-348,-1247,-351,-1251,-347,-1253],[-342,-1246,-338,-1248,-342,-1252,-337,-1254,-340,-1258,-336,-1260]];
const northBelt=[[-478,-1168,-476,-1172,-473,-1169,-470,-1174,-467,-1170,-464,-1175,-461,-1171,-458,-1176],[-470,-1183,-466,-1186,-470,-1189,-465,-1191,-469,-1194],[-462,-1192,-458,-1190,-456,-1194,-452,-1191,-449,-1195],[-446,-1160,-443,-1164,-447,-1167,-442,-1169,-446,-1172],[-438,-1164,-434,-1167,-430,-1163,-427,-1167,-423,-1163,-420,-1167],[-445,-1180,-441,-1184,-445,-1187,-440,-1189,-444,-1192],[-462,-1170,-458,-1172,-455,-1176,-451,-1180,-447,-1178],[-476,-1212,-472,-1216,-468,-1213,-470,-1219,-466,-1222],[-482,-1228,-478,-1231,-481,-1235,-476,-1238,-478,-1242],[-412,-1148,-408,-1151,-404,-1149,-401,-1153,-397,-1150],[-398,-1172,-394,-1170,-391,-1174,-387,-1172,-384,-1176],[-396,-1190,-392,-1193,-388,-1190,-384,-1193,-380,-1190]];
const southBelt=[[-450,-1250,-446,-1252,-442,-1249,-438,-1252,-434,-1249],[-428,-1240,-424,-1243,-428,-1247,-423,-1249,-427,-1253],[-422,-1256,-418,-1259,-421,-1263,-416,-1265,-420,-1269],[-412,-1270,-408,-1273,-411,-1277,-406,-1279,-410,-1283],[-436,-1272,-432,-1275,-435,-1278,-430,-1281],[-392,-1275,-389,-1278,-392,-1282],[-442,-1295,-438,-1297,-434,-1294,-430,-1297],[-458,-1300,-455,-1303,-458,-1306,-454,-1309]];
const openPieces=[].concat(ridgeBelt,northBelt,southBelt);

const XMIN=-591050,XMAX=-166660,YMIN=-1334250,YMAX=-1132740;
const toPts=a=>{const r=[];for(let i=0;i+1<a.length;i+=2)r.push([a[i]*1000,a[i+1]*1000]);return r;};
const black='#141414';
const font='"Liberation Sans",Arial,sans-serif';
const chart=echarts.init(document.getElementById('c'),null,{renderer:'canvas'});
const noAnim={animation:false,silent:true,xAxisIndex:0,yAxisIndex:0};
const series=[];
series.push({...noAnim,type:'custom',z:1,clip:true,data:[[0]],renderItem:(p,api)=>({type:'rect',shape:(()=>{const a=api.coord([XMIN,YMAX]),b=api.coord([XMAX,YMIN]);return{x:a[0],y:a[1],width:b[0]-a[0],height:b[1]-a[1]};})(),style:{fill:bandColors[0]}})});
const contourPts=contours.map(toPts);
series.push({...noAnim,type:'custom',z:1,clip:true,progressive:0,data:contours.map((c,i)=>[i]),
 renderItem:(p,api)=>{const i=api.value(0),c=contourPts[i];const f=c[0],l=c[c.length-1];
  const poly=[[f[0],-1120000],...c,[l[0],-1345000],[-150000,-1345000],[-150000,-1120000]];
  return{type:'polygon',shape:{points:poly.map(q=>api.coord(q))},style:{fill:bandColors[i+1]}};}});
contourPts.forEach(c=>series.push({...noAnim,type:'line',z:2,symbol:'none',showSymbol:false,data:c,lineStyle:{color:black,width:1}}));
const loopPts=loops.map(l=>toPts(l.slice(1)));
series.push({...noAnim,type:'custom',z:3,clip:true,progressive:0,data:loops.map((l,i)=>[i]),
 renderItem:(p,api)=>{const i=api.value(0);return{type:'polygon',shape:{smooth:0.35,points:loopPts[i].map(q=>api.coord(q))},style:{fill:bandColors[loops[i][0]+1],stroke:black,lineWidth:1}};}});
openPieces.map(toPts).forEach(c=>series.push({...noAnim,type:'line',z:3,symbol:'none',showSymbol:false,smooth:0.3,data:c,lineStyle:{color:black,width:1}}));
const outPts=toPts(outline);
series.push({...noAnim,type:'custom',z:4,clip:true,data:[[0]],
 renderItem:(p,api)=>{const o=outPts[0];
  const poly=[...outPts,o,[XMIN,o[1]],[XMIN,YMIN],[XMAX,YMIN],[XMAX,YMAX],[XMIN,YMAX],[XMIN,o[1]],o];
  return{type:'polygon',shape:{points:poly.map(q=>api.coord(q))},style:{fill:'#fff'}};}});
const LOW=-104.7,STEP=0.05;
series.push({animation:false,silent:true,type:'custom',z:2,xAxisIndex:2,yAxisIndex:2,progressive:0,data:bandColors.map((c,i)=>[i]),
 renderItem:(p,api)=>{const i=api.value(0);const a=api.coord([0,LOW+STEP*(i+1)]),b=api.coord([1,LOW+STEP*i]);
  return{type:'rect',shape:{x:a[0],y:a[1],width:b[0]-a[0],height:b[1]-a[1]},style:{fill:bandColors[i],stroke:'#222',lineWidth:1}};}});

const frame={lineStyle:{color:'#7c7c7c',width:2},onZero:false};
const tick=v=>({show:true,length:17,inside:false,customValues:v,lineStyle:{color:'#444',width:1}});
const labelStyle={fontFamily:font,fontSize:33.7,color:'#141414',formatter:v=>String(v)};
const nameStyle={fontFamily:font,fontSize:33.5,color:'#141414'};
chart.setOption({
 animation:false,backgroundColor:'#fff',
 title:{text:'DRE [mGal]',right:3,top:11,textStyle:{fontFamily:font,fontSize:32.5,fontWeight:'normal',color:'#141414'}},
 grid:[{left:221,top:90,width:1409,height:669,show:false,outerBoundsMode:'none'},{left:1701,top:64,width:50,height:794,show:false,outerBoundsMode:'none'}],
 xAxis:[
  {type:'value',gridIndex:0,position:'bottom',min:XMIN,max:XMAX,z:6,splitLine:{show:false},axisLine:{show:true,...frame},axisTick:tick(xTicks),
   axisLabel:{...labelStyle,margin:21,customValues:xTicks},name:'-y JTSK [m]',nameLocation:'middle',nameGap:74,nameTextStyle:nameStyle},
  {type:'value',gridIndex:0,position:'top',min:XMIN,max:XMAX,z:6,splitLine:{show:false},axisLine:{show:true,...frame},axisTick:tick(xTicks),axisLabel:{show:false}},
  {type:'value',gridIndex:1,min:0,max:1,show:false}],
 yAxis:[
  {type:'value',gridIndex:0,position:'left',min:YMIN,max:YMAX,z:6,splitLine:{show:false},axisLine:{show:true,...frame},axisTick:tick(yTicks),
   axisLabel:{...labelStyle,margin:21,customValues:yTicks},name:'-x JTSK [m]',nameLocation:'middle',nameGap:151,nameTextStyle:{...nameStyle,padding:[0,0,20,0]}},
  {type:'value',gridIndex:0,position:'right',min:YMIN,max:YMAX,z:6,splitLine:{show:false},axisLine:{show:true,...frame},axisTick:tick(yTicks),axisLabel:{show:false}},
  {type:'value',gridIndex:1,position:'right',min:-104.7,max:-102.45,splitLine:{show:false},axisLine:{show:false},axisTick:{show:false},
   axisLabel:{fontFamily:font,fontSize:27,color:'#141414',margin:7,customValues:legendTicks,formatter:v=>v.toFixed(3)}}],
 series
});
</script></body></html>
